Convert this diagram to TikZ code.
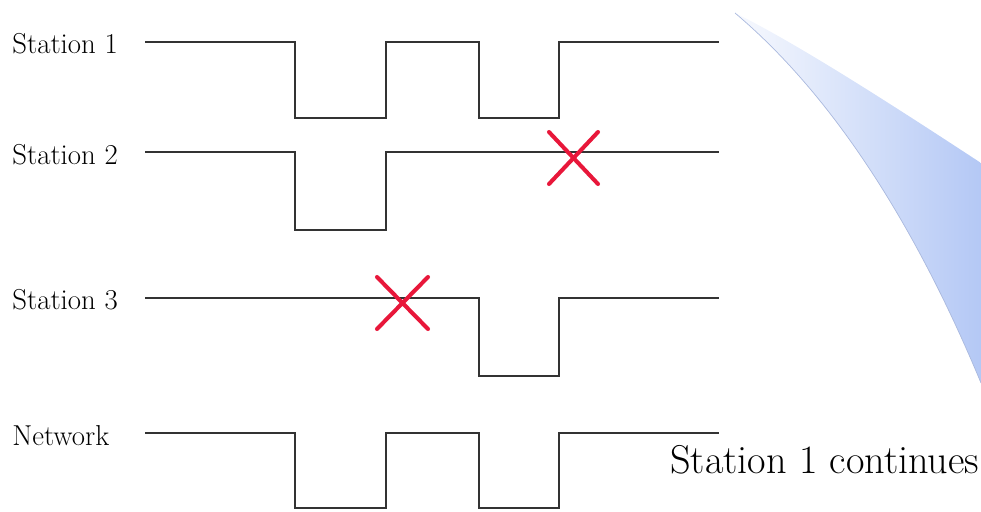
\documentclass[tikz,border=0pt]{standalone}
\definecolor{sigline}{HTML}{333333}
\definecolor{crossred}{HTML}{E8173A}
\definecolor{sheenblue}{HTML}{B4C8F5}
\tikzset{
  signal/.style={draw=sigline, line width=0.9pt},
  crossmark/.style={draw=crossred, line width=2.3pt, line cap=round},
  lbl/.style={anchor=base west, inner sep=0pt, font=\fontsize{16.4}{20}\selectfont},
}
\begin{document}
\begin{tikzpicture}[x=0.02cm, y=-0.02cm]
  \useasboundingbox (0,0) rectangle (981,511);
  % decorative sweep on the right
  \shade[left color=sheenblue!10, right color=sheenblue]
    (735,13) .. controls (800,45) and (900,110) .. (981,163) -- (981,383)
    .. controls (930,260) and (850,110) .. (735,13) -- cycle;
  \draw[sheenblue!80!gray, line width=0.4pt] (981,383) .. controls (930,260) and (850,110) .. (735,13);
  % labels
  \node[lbl] (st1) at (12,53) {Station 1};
  \node[lbl] (st2) at (12,164) {Station 2};
  \node[lbl] (st3) at (12,309) {Station 3};
  \node[lbl] (net) at (12,445) {Network};
  \node[anchor=base west, inner sep=0pt, font=\fontsize{22.9}{27}\selectfont] (cont) at (670,473) {Station 1 continues};
  % signals
  \draw[signal] (145,42) -- (295,42) -- (295,118) -- (386,118) -- (386,42) -- (479,42) -- (479,118) -- (559,118) -- (559,42) -- (719,42);
  \draw[signal] (145,152) -- (295,152) -- (295,230) -- (386,230) -- (386,152) -- (719,152);
  \draw[signal] (145,298) -- (479,298) -- (479,376) -- (559,376) -- (559,298) -- (719,298);
  \draw[signal] (145,433) -- (295,433) -- (295,508) -- (386,508) -- (386,433) -- (479,433) -- (479,508) -- (559,508) -- (559,433) -- (719,433);
  % collisions
  \draw[crossmark] (549,132) -- (598,184) (598,132) -- (549,184);
  \draw[crossmark] (377,277) -- (428,329) (428,277) -- (377,329);
\end{tikzpicture}
\end{document}
